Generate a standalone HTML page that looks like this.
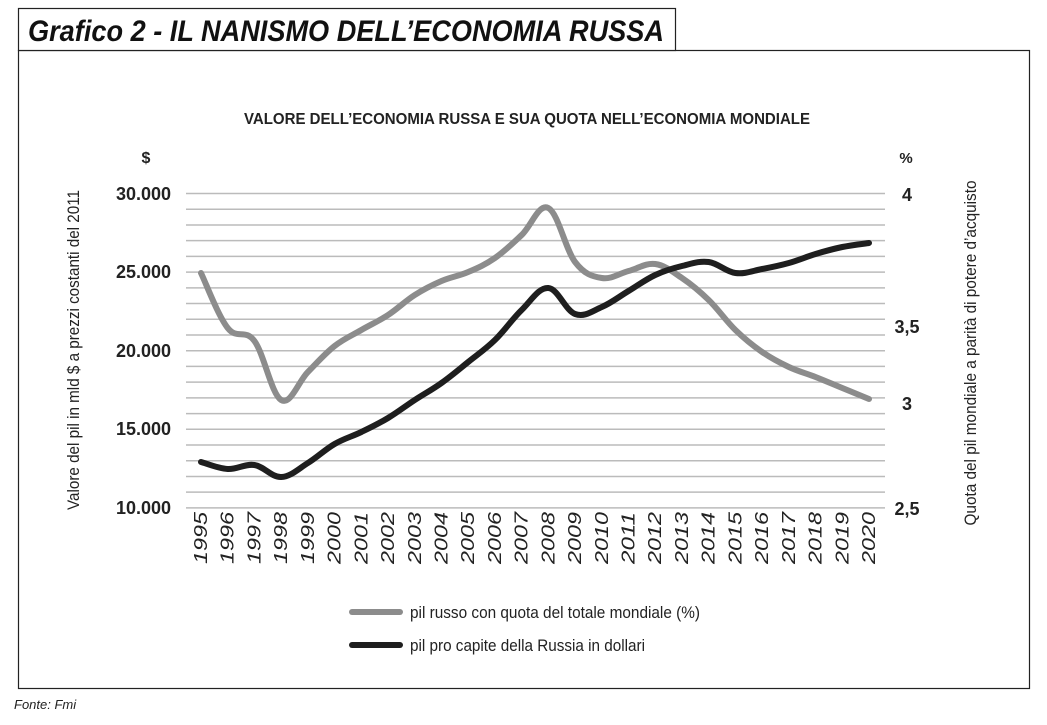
<!DOCTYPE html>
<html><head><meta charset="utf-8"><style>
body{margin:0;background:#fff;width:1047px;height:720px;overflow:hidden;font-family:"Liberation Sans",sans-serif}
</style></head><body>
<svg width="1047" height="720" xmlns="http://www.w3.org/2000/svg" font-family="Liberation Sans, sans-serif">
<rect x="18.5" y="50.5" width="1011" height="638" fill="none" stroke="#222" stroke-width="1.2"/>
<rect x="18.5" y="8.5" width="657" height="42" fill="#fff" stroke="#222" stroke-width="1.2"/>
<text x="28" y="41" font-size="30" font-weight="bold" font-style="italic" fill="#111" textLength="636" lengthAdjust="spacingAndGlyphs">Grafico 2 - IL NANISMO DELL’ECONOMIA RUSSA</text>
<text x="244" y="124" font-size="16" font-weight="bold" fill="#222" textLength="566" lengthAdjust="spacingAndGlyphs">VALORE DELL’ECONOMIA RUSSA E SUA QUOTA NELL’ECONOMIA MONDIALE</text>
<text x="146" y="163" text-anchor="middle" font-size="16" font-weight="bold" fill="#222">$</text>
<text x="906" y="163" text-anchor="middle" font-size="15" font-weight="bold" fill="#222">%</text>
<g stroke="#bbb" stroke-width="1.5" id="grid"></g>
<g font-size="18" font-weight="bold" fill="#222" text-anchor="end">
<text x="171" y="200">30.000</text><text x="171" y="278">25.000</text><text x="171" y="357">20.000</text><text x="171" y="435">15.000</text><text x="171" y="514">10.000</text>
</g>
<g font-size="18" font-weight="bold" fill="#222" text-anchor="middle">
<text x="907" y="201">4</text><text x="907" y="333">3,5</text><text x="907" y="410">3</text><text x="907" y="515">2,5</text>
</g>
<text transform="translate(79 350) rotate(-90)" text-anchor="middle" font-size="17" fill="#222" textLength="320" lengthAdjust="spacingAndGlyphs">Valore del pil in mld $ a prezzi costanti del 2011</text>
<text transform="translate(976 353) rotate(-90)" text-anchor="middle" font-size="17" fill="#222" textLength="345" lengthAdjust="spacingAndGlyphs">Quota del pil mondiale a parità di potere d’acquisto</text>
<g id="years" font-size="18" font-style="italic" fill="#222"></g>
<path id="gray" fill="none" stroke="#8c8c8c" stroke-width="6" stroke-linejoin="round" stroke-linecap="round"/>
<path id="black" fill="none" stroke="#1e1e1e" stroke-width="6" stroke-linejoin="round" stroke-linecap="round"/>
<line x1="352" y1="612" x2="400" y2="612" stroke="#8c8c8c" stroke-width="6" stroke-linecap="round"/>
<line x1="352" y1="645" x2="400" y2="645" stroke="#1e1e1e" stroke-width="6" stroke-linecap="round"/>
<text x="410" y="618" font-size="17" fill="#222" textLength="290" lengthAdjust="spacingAndGlyphs">pil russo con quota del totale mondiale (%)</text>
<text x="410" y="651" font-size="17" fill="#222" textLength="235" lengthAdjust="spacingAndGlyphs">pil pro capite della Russia in dollari</text>
<text x="14" y="709" font-size="13" font-style="italic" fill="#222">Fonte: Fmi</text>
</svg>
<script>
var NS='http://www.w3.org/2000/svg';
var g=document.getElementById('grid');
for(var i=0;i<=20;i++){var y=193.5+i*15.72;var l=document.createElementNS(NS,'line');l.setAttribute('x1',186);l.setAttribute('x2',885);l.setAttribute('y1',y);l.setAttribute('y2',y);g.appendChild(l);}
var yr=document.getElementById('years');
for(var i=0;i<26;i++){var x=201+i*26.72;var t=document.createElementNS(NS,'text');t.setAttribute('transform','translate('+(x+6)+' 512) rotate(-90)');t.setAttribute('text-anchor','end');t.setAttribute('textLength','52');t.setAttribute('lengthAdjust','spacingAndGlyphs');t.textContent=1995+i;yr.appendChild(t);}
var gy=[273,328,341,400,372,346,330,315,295,281,272,258,235,208,262,278,271,264,278,300,330,352,367,377,388,399];
var by=[462,469,465,477,463,444,432,418,400,383,362,340,310,288,314,307,291,275,266,262,273,269,263,254,247,243];
function path(a){var p=a.map(function(y,i){return [201+i*26.72,y]});var d='M'+p[0][0]+','+p[0][1];
for(var i=0;i<p.length-1;i++){var p0=p[Math.max(0,i-1)],p1=p[i],p2=p[i+1],p3=p[Math.min(p.length-1,i+2)];var k=0.18;
d+=' C'+(p1[0]+(p2[0]-p0[0])*k)+','+(p1[1]+(p2[1]-p0[1])*k)+' '+(p2[0]-(p3[0]-p1[0])*k)+','+(p2[1]-(p3[1]-p1[1])*k)+' '+p2[0]+','+p2[1];}
return d;}
document.getElementById('gray').setAttribute('d',path(gy));
document.getElementById('black').setAttribute('d',path(by));
</script>
</body></html>
